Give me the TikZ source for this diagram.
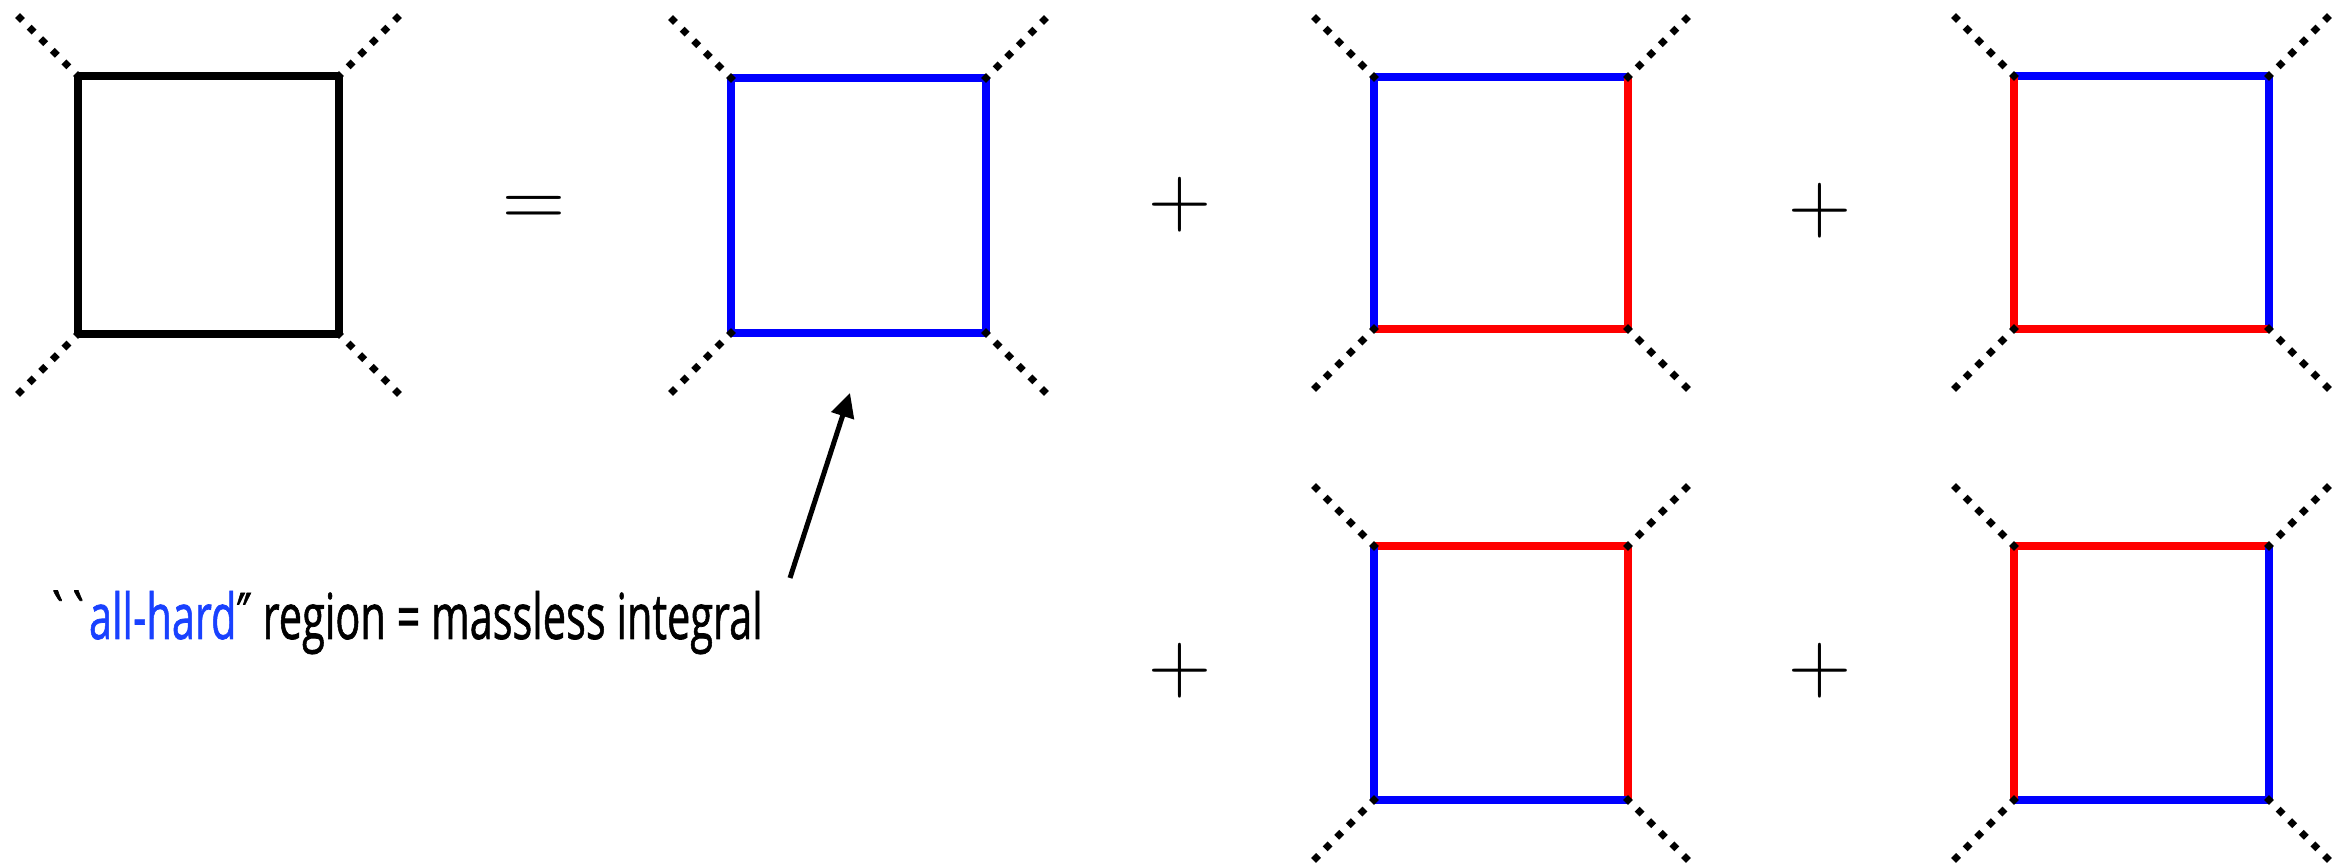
\documentclass[tikz,border=0pt]{standalone}
\usepackage{fontspec}
\setmainfont{Open Sans}
\newfontfamily\lblfont{Open Sans}[FakeBold=1.2]
\newfontfamily\dvfont{DejaVu Sans}[FakeBold=1.2]
\usetikzlibrary{calc,arrows.meta}
\definecolor{edgeblue}{RGB}{0,0,255}
\definecolor{edgered}{RGB}{255,0,0}
\definecolor{allhard}{RGB}{25,65,255}
\tikzset{
  edge/.style={line width=0.75mm, line cap=square},
  leg/.style={line width=0.7mm, line cap=butt, dash pattern=on 0.7mm off 0.94mm},
  opsign/.style={inner sep=0pt, anchor=base, font=\fontsize{26.4}{30}\selectfont},
  pointer/.style={line width=0.5mm, -{Triangle[length=2.4mm,width=2.3mm]}},
}
\newcommand{\feynbox}[9]{%
  \coordinate (#1tl) at (#2,#3);
  \coordinate (#1tr) at (#4,#3);
  \coordinate (#1br) at (#4,#5);
  \coordinate (#1bl) at (#2,#5);
  \coordinate (#1etl) at ($(#1tl)+(-58,-58)$);
  \coordinate (#1etr) at ($(#1tr)+(58,-58)$);
  \coordinate (#1ebr) at ($(#1br)+(58,58)$);
  \coordinate (#1ebl) at ($(#1bl)+(-58,58)$);
  \draw[edge,#6] (#1tl) -- (#1tr);
  \draw[edge,#7] (#1tr) -- (#1br);
  \draw[edge,#8] (#1br) -- (#1bl);
  \draw[edge,#9] (#1bl) -- (#1tl);
  \foreach \c in {tl,tr,br,bl}{
    \draw[leg] ($(#1\c)!-0.35mm!(#1e\c)$) -- ($(#1e\c)!-0.35mm!(#1\c)$);
  }
}
\begin{document}
\begin{tikzpicture}[x=0.1mm,y=-0.1mm]
\useasboundingbox (0,0) rectangle (2335,863);
\feynbox{a}{78}{76}{339}{334}{black}{black}{black}{black}
\feynbox{b}{731}{78}{986}{333}{edgeblue}{edgeblue}{edgeblue}{edgeblue}
\feynbox{c}{1374}{77}{1628}{329}{edgeblue}{edgered}{edgered}{edgeblue}
\feynbox{d}{2014}{76}{2269}{329}{edgeblue}{edgeblue}{edgered}{edgered}
\feynbox{e}{1374}{546}{1628}{800}{edgered}{edgered}{edgeblue}{edgeblue}
\feynbox{f}{2014}{546}{2269}{800}{edgered}{edgeblue}{edgeblue}{edgered}
\node[opsign] (eq) at (534,228) {$=$};
\node[opsign] (p1) at (1180,227) {$+$};
\node[opsign] (p2) at (1820,233) {$+$};
\node[opsign] (p3) at (1180,693) {$+$};
\node[opsign] (p4) at (1820,693) {$+$};
\node[inner sep=0pt, anchor=base west] (label) at (45,639)
  {\resizebox{7.17cm}{\height}{\fontsize{18}{22}\lblfont\textasciigrave\kern-0.08em\textasciigrave\kern-0.03em\textcolor{allhard}{all-hard}{\dvfont ″} region = massless integral}};
\coordinate (arrS) at (790,578);
\coordinate (arrE) at (850,393);
\draw[pointer] (arrS) -- (arrE);
\end{tikzpicture}
\end{document}
